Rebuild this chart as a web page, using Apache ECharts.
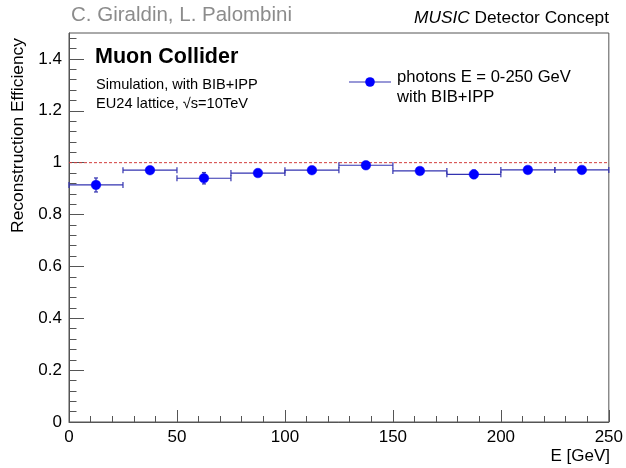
<!DOCTYPE html>
<html><head><meta charset="utf-8">
<script src="https://cdn.jsdelivr.net/npm/echarts@6/dist/echarts.min.js"></script>
<style>html,body{margin:0;padding:0;background:#fff}#c{width:626px;height:468px}</style>
</head><body><div id="c"></div>
<script>
// Bin edges (GeV)
const binLow  = [0, 25, 50, 75, 100, 125, 150, 175, 200, 225];
const binHigh = [25, 50, 75, 100, 125, 150, 175, 200, 225, 250];
// Reconstruction efficiency per bin and its uncertainty
const efficiency = [0.914, 0.971, 0.940, 0.960, 0.971, 0.990, 0.968, 0.955, 0.972, 0.972];
const errors     = [0.027, 0.012, 0.022, 0.012, 0.010, 0.008, 0.012, 0.016, 0.010, 0.010];
// Axis ticks
const yMajorTicks = [0, 0.2, 0.4, 0.6, 0.8, 1, 1.2, 1.4];
const yMinorTicks = [0.04,0.08,0.12,0.16,0.24,0.28,0.32,0.36,0.44,0.48,0.52,0.56,0.64,0.68,0.72,0.76,0.84,0.88,0.92,0.96,1.04,1.08,1.12,1.16,1.24,1.28,1.32,1.36,1.44,1.48];
const xTicks = [0, 50, 100, 150, 200, 250];
const referenceLevel = 1;

const FONT = "'Liberation Sans', Arial, Helvetica, sans-serif";
const FRAME = '#555';
const LINE_BLUE = '#3333b0';
const MARK_BLUE = '#0000ff';

const chart = echarts.init(document.getElementById('c'), null, {renderer: 'canvas'});

const data = binLow.map((lo, i) => [lo, binHigh[i], efficiency[i], errors[i]]);

const option = {
  animation: false,
  backgroundColor: '#fff',
  grid: {left: 69, right: 15, top: 33, bottom: 46, show: true, borderColor: FRAME, borderWidth: 1, backgroundColor: 'transparent'},
  xAxis: {
    type: 'value', min: xTicks[0], max: xTicks[xTicks.length - 1], interval: 50,
    axisLine: {show: true, lineStyle: {color: FRAME, width: 1}},
    axisTick: {show: true, inside: true, length: 12, lineStyle: {color: FRAME}},
    minorTick: {show: true, splitNumber: 5, length: 6, lineStyle: {color: FRAME}},
    axisLabel: {fontFamily: FONT, fontSize: 17, color: '#000', margin: 7},
    splitLine: {show: false}, minorSplitLine: {show: false}
  },
  yAxis: [{
    type: 'value', min: 0, max: 1.5,
    axisLine: {show: true, lineStyle: {color: FRAME, width: 1}},
    axisTick: {show: true, inside: true, length: 15, customValues: yMajorTicks, lineStyle: {color: FRAME}},
    axisLabel: {fontFamily: FONT, fontSize: 17, color: '#000', margin: 7, customValues: yMajorTicks},
    splitLine: {show: false}
  }, {
    type: 'value', min: 0, max: 1.5, position: 'left',
    axisLine: {show: false},
    axisTick: {show: true, inside: true, length: 7.5, customValues: yMinorTicks, lineStyle: {color: FRAME}},
    axisLabel: {show: false},
    splitLine: {show: false}
  }],
  series: [{
    type: 'line',
    data: [[xTicks[0], referenceLevel], [xTicks[xTicks.length - 1], referenceLevel]],
    symbol: 'none',
    lineStyle: {color: '#d23c3c', width: 1, type: [3, 2]},
    z: 1
  }, {
    type: 'custom',
    data: data,
    z: 3,
    renderItem: function (params, api) {
      const lo = api.value(0), hi = api.value(1), y = api.value(2), e = api.value(3);
      const xc = (lo + hi) / 2;
      const pL = api.coord([lo, y]), pR = api.coord([hi, y]), pC = api.coord([xc, y]);
      const pT = api.coord([xc, y + e]), pB = api.coord([xc, y - e]);
      const st = {stroke: LINE_BLUE, lineWidth: 1.2};
      return {type: 'group', children: [
        {type: 'line', shape: {x1: pL[0], y1: pL[1], x2: pR[0], y2: pR[1]}, style: st},
        {type: 'line', shape: {x1: pL[0], y1: pL[1] - 3, x2: pL[0], y2: pL[1] + 3}, style: st},
        {type: 'line', shape: {x1: pR[0], y1: pR[1] - 3, x2: pR[0], y2: pR[1] + 3}, style: st},
        {type: 'line', shape: {x1: pT[0], y1: pT[1], x2: pB[0], y2: pB[1]}, style: st},
        {type: 'line', shape: {x1: pT[0] - 2, y1: pT[1], x2: pT[0] + 2, y2: pT[1]}, style: st},
        {type: 'line', shape: {x1: pB[0] - 2, y1: pB[1], x2: pB[0] + 2, y2: pB[1]}, style: st},
        {type: 'circle', shape: {cx: pC[0], cy: pC[1], r: 4.8}, style: {fill: MARK_BLUE, stroke: MARK_BLUE, lineWidth: 0.5}}
      ]};
    }
  }],
  graphic: [
    {type: 'text', x: 71, y: 15, style: {text: 'C. Giraldin, L. Palombini', verticalAlign: 'middle', font: '20.5px ' + FONT, fill: '#8c8c8c'}},
    {type: 'text', x: 609, y: 18, style: {text: '{i|MUSIC} Detector Concept', align: 'right', verticalAlign: 'middle', font: '17.3px ' + FONT, fill: '#000',
      rich: {i: {fontStyle: 'italic', fontFamily: FONT, fontSize: 17.3, fill: '#000'}}}},
    {type: 'text', x: 95, y: 57, style: {text: 'Muon Collider', verticalAlign: 'middle', font: 'bold 21.5px ' + FONT, fill: '#000'}},
    {type: 'text', x: 96, y: 85, style: {text: 'Simulation, with BIB+IPP', verticalAlign: 'middle', font: '14.6px ' + FONT, fill: '#000'}},
    {type: 'text', x: 96, y: 104, style: {text: 'EU24 lattice, √s=10TeV', verticalAlign: 'middle', font: '14.6px ' + FONT, fill: '#000'}},
    {type: 'line', shape: {x1: 349, y1: 82, x2: 391, y2: 82}, style: {stroke: LINE_BLUE, lineWidth: 1.2}},
    {type: 'circle', shape: {cx: 370, cy: 82, r: 4.8}, style: {fill: MARK_BLUE}},
    {type: 'text', x: 397, y: 77, style: {text: 'photons E = 0-250 GeV', verticalAlign: 'middle', font: '16.6px ' + FONT, fill: '#000'}},
    {type: 'text', x: 397, y: 97, style: {text: 'with BIB+IPP', verticalAlign: 'middle', font: '16.6px ' + FONT, fill: '#000'}},
    {type: 'text', x: 18, y: 38, rotation: Math.PI / 2, style: {text: 'Reconstruction Efficiency', align: 'right', verticalAlign: 'middle', font: '17.4px ' + FONT, fill: '#000'}},
    {type: 'text', x: 610, y: 456, style: {text: 'E [GeV]', align: 'right', verticalAlign: 'middle', font: '17px ' + FONT, fill: '#000'}}
  ]
};
chart.setOption(option);
</script>
</body></html>
